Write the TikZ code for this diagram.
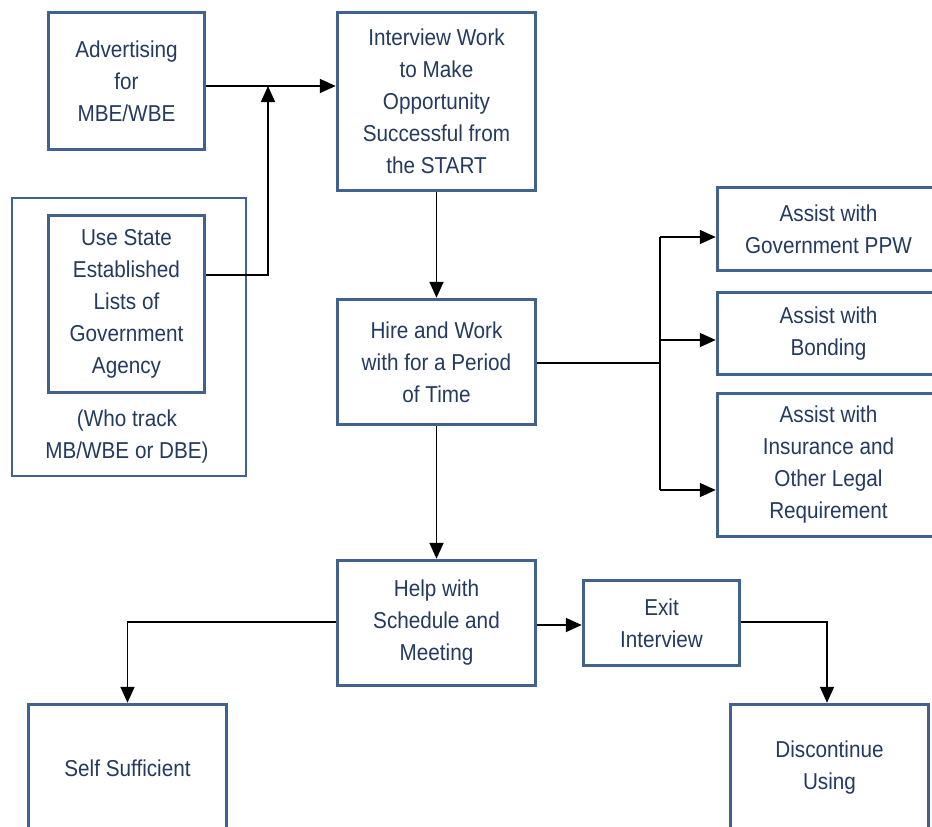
\documentclass[tikz,border=0pt]{standalone}
\usepackage{fontspec}
\setmainfont{Liberation Sans}[FakeStretch=0.9]
\usetikzlibrary{arrows.meta}
\definecolor{bordc}{RGB}{65,97,143}
\definecolor{txtc}{RGB}{36,58,94}
\begin{document}
\begin{tikzpicture}[x=1pt,y=-1pt,
  box/.style={draw=bordc, line width=3.5pt, fill=white, align=center, text=txtc,
    font=\fontsize{23}{32}\selectfont, inner sep=0pt},
  arr/.style={draw=black, line width=1.8pt, -{Triangle[length=16pt,width=14pt]}},
  ln/.style={draw=black, line width=1.8pt}]
\useasboundingbox (0,0) rectangle (932,827);
\fill[white] (0,0) rectangle (932,827);
% outer thin frame
\node[draw=bordc, line width=2pt, minimum width=234pt, minimum height=278pt, inner sep=0pt] (outer) at (128.5,336.5) {};
% boxes
\node[box, minimum width=156pt, minimum height=137pt] (adv) at (126.5,81) {Advertising\\for\\MBE/WBE};
\node[box, minimum width=156pt, minimum height=177pt] (use) at (126.5,304) {Use State\\Established\\Lists of\\Government\\Agency};
\node[align=center, text=txtc, font=\fontsize{23}{32}\selectfont, inner sep=0pt] (who) at (127,436.5) {(Who track\\MB/WBE or DBE)};
\node[box, minimum width=198pt, minimum height=178pt] (int) at (436.5,101.5) {Interview Work\\to Make\\Opportunity\\Successful from\\the START};
\node[box, minimum width=198pt, minimum height=125pt] (hire) at (436.5,362) {Hire and Work\\with for a Period\\of Time};
\node[box, minimum width=222pt, minimum height=83pt] (ppw) at (828.5,229) {Assist with\\Government PPW};
\node[box, minimum width=222pt, minimum height=82pt] (bond) at (828.5,333.5) {Assist with\\Bonding};
\node[box, minimum width=222pt, minimum height=143pt] (ins) at (828.5,465) {Assist with\\Insurance and\\Other Legal\\Requirement};
\node[box, minimum width=198pt, minimum height=125pt] (help) at (436.5,623) {Help with\\Schedule and\\Meeting};
\node[box, minimum width=156pt, minimum height=85pt] (exit) at (661.5,623) {Exit\\Interview};
\node[box, minimum width=198pt, minimum height=127pt] (self) at (127.5,768) {Self Sufficient};
\node[box, minimum width=198pt, minimum height=127pt] (disc) at (829.5,768) {Discontinue\\Using};
% junction coordinates
\coordinate (j) at (268,86);
\coordinate (k) at (268,275);
\coordinate (b0) at (660,363);
\coordinate (b1) at (660,237);
\coordinate (b2) at (660,340);
\coordinate (b3) at (660,490);
\coordinate (s) at (127.5,622);
\coordinate (e) at (560,625);
\coordinate (d) at (827,622);
% connectors
\draw[arr] (adv.east |- j) -- (int.west |- j);
\draw[arr] (use.east |- k) -- (k) -- (j);
\draw[arr] (int.south) -- (hire.north);
\draw[ln] (hire.east |- b0) -- (b0);
\draw[ln] (b1) -- (b3);
\draw[arr] (b1) -- (b1 -| ppw.west);
\draw[arr] (b2) -- (b2 -| bond.west);
\draw[arr] (b3) -- (b3 -| ins.west);
\draw[arr] (hire.south) -- (help.north);
\draw[arr] (help.west |- s) -- (s) -- (self.north);
\draw[arr] (help.east |- e) -- (exit.west |- e);
\draw[arr] (exit.east |- d) -- (d) -- (d |- disc.north);
\end{tikzpicture}
\end{document}
